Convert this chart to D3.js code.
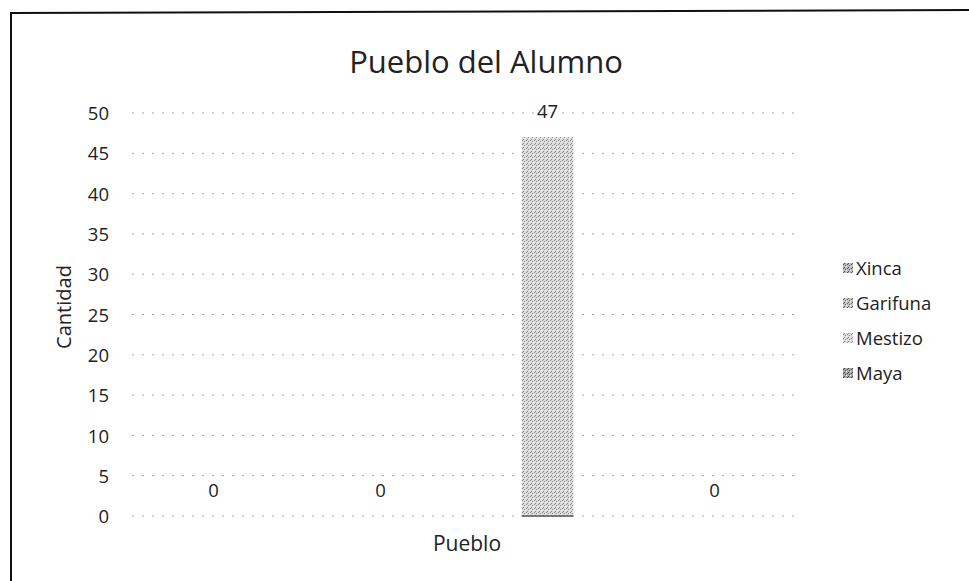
<!DOCTYPE html>
<html><head><meta charset="utf-8">
<script src="https://cdn.jsdelivr.net/npm/d3@7"></script>
<style>body{margin:0;background:#fff}svg{display:block}text{font-family:"Open Sans",sans-serif;fill:#222}</style>
</head><body><svg id="c" width="969" height="581"></svg>
<script>
const categories = ["Pueblo"];
const series = ["Xinca", "Garifuna", "Mestizo", "Maya"];
const values = [0, 0, 47, 0];
const yTicks = [0, 5, 10, 15, 20, 25, 30, 35, 40, 45, 50];
const title = "Pueblo del Alumno";
const yTitle = "Cantidad";

const svg = d3.select("#c");
const defs = svg.append("defs");
const pats = [
  {id:"p0", bg:"#bdbdbd", dot:"#555"},
  {id:"p1", bg:"#c4c4c4", dot:"#666"},
  {id:"p2", bg:"#dcdcdc", dot:"#8a8a8a"},
  {id:"p3", bg:"#a8a8a8", dot:"#444"}
];
pats.forEach(p => {
  const pt = defs.append("pattern").attr("id", p.id).attr("patternUnits","userSpaceOnUse")
    .attr("width",4).attr("height",4);
  pt.append("rect").attr("width",4).attr("height",4).attr("fill",p.bg);
  [[0,0],[2,1],[1,3]].forEach(([a,b]) => pt.append("rect").attr("x",a).attr("y",b).attr("width",1).attr("height",1).attr("fill",p.dot));
  pt.append("rect").attr("x",3).attr("y",2).attr("width",1).attr("height",1).attr("fill","#f4f4f4");
});

// frame
svg.append("line").attr("x1",11).attr("y1",13).attr("x2",969).attr("y2",10).attr("stroke","#111").attr("stroke-width",2);
svg.append("line").attr("x1",11).attr("y1",12).attr("x2",11).attr("y2",581).attr("stroke","#111").attr("stroke-width",2);

const x0 = d3.scaleBand().domain(categories).range([130, 798]);
const x1 = d3.scaleBand().domain(series).range([0, x0.bandwidth()]).paddingInner(0.69).paddingOuter(0.345);
const y = d3.scaleLinear().domain([0, 50]).range([516, 113]);

// gridlines
svg.append("g").selectAll("line").data(yTicks).join("line")
  .attr("x1",132).attr("x2",800).attr("y1",d=>y(d)).attr("y2",d=>y(d))
  .attr("stroke","#a6a6a6").attr("stroke-width",1).attr("stroke-dasharray","2,8");

// y axis
const yAxis = d3.axisLeft(y).tickValues(yTicks).tickSize(0).tickPadding(0);
const ga = svg.append("g").attr("transform","translate(109,0)").call(yAxis);
ga.select(".domain").remove();
ga.selectAll("text").attr("font-size",18.5).attr("font-family","Open Sans").attr("fill","#222").attr("dy","0.36em");

// bars
const g = svg.append("g").selectAll("g").data(categories).join("g")
  .attr("transform", d => `translate(${x0(d)},0)`);
g.selectAll("rect").data(series.map((s,i)=>({s, v:values[i], i}))).join("rect")
  .attr("x", d => x1(d.s)).attr("width", x1.bandwidth())
  .attr("y", d => y(d.v)).attr("height", d => y(0) - y(d.v))
  .attr("fill", d => `url(#p${d.i})`);
g.selectAll("text.v").data(series.map((s,i)=>({s, v:values[i]}))).join("text")
  .attr("class","v").attr("text-anchor","middle")
  .attr("x", d => x1(d.s) + x1.bandwidth()/2)
  .attr("y", d => y(d.v) - 19)
  .attr("font-size",18.5).text(d => d.v);

// zero baseline slightly darker under bar
svg.append("line").attr("x1",x0("Pueblo")+x1("Mestizo")).attr("x2",x0("Pueblo")+x1("Mestizo")+x1.bandwidth())
  .attr("y1",y(0)).attr("y2",y(0)).attr("stroke","#555").attr("stroke-width",1.5);

// titles
svg.append("text").attr("x",486).attr("y",73).attr("text-anchor","middle").attr("font-size",31).text(title);
svg.append("text").attr("x", (x0.range()[0]+x0.range()[1])/2 + 3).attr("y",551).attr("text-anchor","middle").attr("font-size",21).text(categories[0]);
svg.append("text").attr("transform","translate(71,307) rotate(-90)").attr("text-anchor","middle").attr("font-size",20).text(yTitle);

// legend
const lg = svg.append("g").selectAll("g").data(series).join("g")
  .attr("transform",(d,i)=>`translate(843,${268 + i*35})`);
lg.append("rect").attr("x",0).attr("y",-5).attr("width",10).attr("height",10).attr("fill",(d,i)=>`url(#p${i})`);
lg.append("text").attr("x",13).attr("dy","0.36em").attr("font-size",18.5).text(d=>d);
</script></body></html>
